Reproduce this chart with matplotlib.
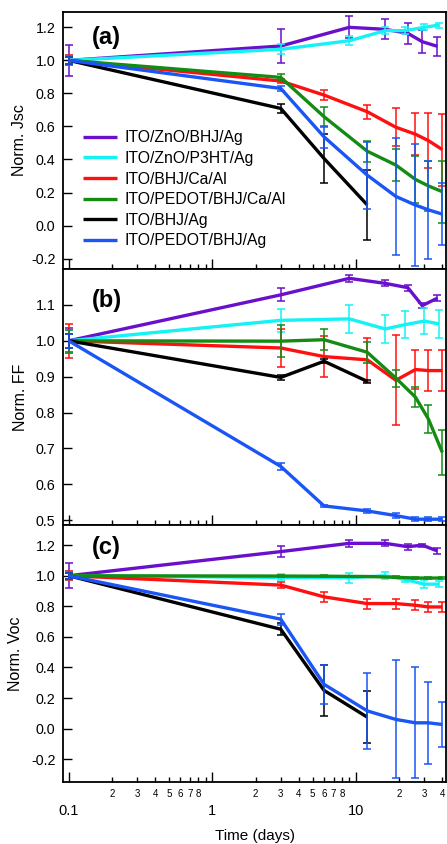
import matplotlib.pyplot as plt
import numpy as np
from matplotlib.ticker import FixedLocator, LogLocator, FuncFormatter

plt.rcParams['font.family'] = ['Liberation Sans', 'DejaVu Sans']
plt.rcParams['axes.unicode_minus'] = False

# time points (days) for each device type
t_zno_bhj = [0.1, 3, 9, 16, 23, 29, 37]
t_zno_p3ht = [0.1, 3, 9, 16, 22, 30, 38]
t_std = [0.1, 3, 6, 12, 19, 26, 32, 40]
t_bhj_ag = [0.1, 3, 6, 12]

labels = ['ITO/ZnO/BHJ/Ag', 'ITO/ZnO/P3HT/Ag', 'ITO/BHJ/Ca/Al',
          'ITO/PEDOT/BHJ/Ca/Al', 'ITO/BHJ/Ag', 'ITO/PEDOT/BHJ/Ag']
colors = ['#6a0fcc', '#14f2f5', '#ff1010', '#148c14', '#000000', '#1a55f5']
times = [t_zno_bhj, t_zno_p3ht, t_std, t_std, t_bhj_ag, t_std]

# (a) normalised Jsc
jsc_zno_bhj = [1.0, 1.087, 1.2, 1.188, 1.164, 1.113, 1.085]
jsc_zno_bhj_err = [0.095, 0.105, 0.066, 0.06, 0.064, 0.068, 0.056]
jsc_zno_p3ht = [1.0, 1.067, 1.119, 1.18, 1.18, 1.2, 1.214]
jsc_zno_p3ht_err = [0.03, 0.03, 0.028, 0.02, 0.02, 0.018, 0.015]
jsc_ca = [1.0, 0.875, 0.79, 0.689, 0.595, 0.553, 0.514, 0.46]
jsc_ca_err = [0.03, 0.015, 0.032, 0.043, 0.116, 0.126, 0.167, 0.218]
jsc_pedot_ca = [1.0, 0.897, 0.659, 0.45, 0.366, 0.279, 0.24, 0.205]
jsc_pedot_ca_err = [0.02, 0.02, 0.061, 0.063, 0.095, 0.142, 0.152, 0.187]
jsc_ag = [1.0, 0.709, 0.406, 0.125]
jsc_ag_err = [0.02, 0.028, 0.147, 0.21]
jsc_pedot_ag = [1.0, 0.83, 0.537, 0.305, 0.176, 0.124, 0.095, 0.069]
jsc_pedot_ag_err = [0.02, 0.014, 0.066, 0.202, 0.356, 0.368, 0.295, 0.188]

# (b) normalised FF
ff_zno_bhj = [1.0, 1.128, 1.174, 1.16, 1.148, 1.098, 1.119]
ff_zno_bhj_err = [0.035, 0.018, 0.01, 0.008, 0.008, 0.008, 0.009]
ff_zno_p3ht = [1.0, 1.057, 1.061, 1.033, 1.045, 1.055, 1.047]
ff_zno_p3ht_err = [0.03, 0.032, 0.038, 0.039, 0.038, 0.037, 0.039]
ff_ca = [1.0, 0.98, 0.956, 0.947, 0.89, 0.92, 0.917, 0.917]
ff_ca_err = [0.048, 0.053, 0.058, 0.062, 0.125, 0.055, 0.057, 0.057]
ff_pedot_ca = [1.0, 0.999, 1.003, 0.968, 0.896, 0.843, 0.782, 0.689]
ff_pedot_ca_err = [0.03, 0.045, 0.029, 0.03, 0.024, 0.028, 0.039, 0.063]
ff_ag = [1.0, 0.898, 0.943, 0.887]
ff_ag_err = [0.02, 0.008, 0.005, 0.005]
ff_pedot_ag = [1.0, 0.65, 0.54, 0.526, 0.513, 0.503, 0.503, 0.503]
ff_pedot_ag_err = [0.02, 0.009, 0.003, 0.005, 0.008, 0.006, 0.006, 0.006]

# (c) normalised Voc
voc_zno_bhj = [1.0, 1.158, 1.212, 1.212, 1.19, 1.2, 1.162]
voc_zno_bhj_err = [0.082, 0.035, 0.024, 0.02, 0.02, 0.01, 0.018]
voc_zno_p3ht = [1.0, 0.989, 0.987, 1.0, 0.975, 0.945, 0.945]
voc_zno_p3ht_err = [0.03, 0.02, 0.033, 0.022, 0.017, 0.025, 0.02]
voc_ca = [1.0, 0.939, 0.862, 0.818, 0.818, 0.807, 0.796, 0.796]
voc_ca_err = [0.03, 0.017, 0.033, 0.033, 0.033, 0.033, 0.033, 0.035]
voc_pedot_ca = [1.0, 0.998, 0.997, 0.995, 0.99, 0.985, 0.985, 0.985]
voc_pedot_ca_err = [0.02, 0.005, 0.005, 0.005, 0.006, 0.006, 0.006, 0.006]
voc_ag = [1.0, 0.65, 0.25, 0.075]
voc_ag_err = [0.02, 0.04, 0.168, 0.17]
voc_pedot_ag = [1.0, 0.716, 0.29, 0.116, 0.06, 0.038, 0.038, 0.027]
voc_pedot_ag_err = [0.02, 0.036, 0.128, 0.25, 0.386, 0.364, 0.27, 0.148]

panels = [
    ('(a)', 'Norm. Jsc', (-0.261, 1.293), np.arange(-0.2, 1.21, 0.2),
     [jsc_zno_bhj, jsc_zno_p3ht, jsc_ca, jsc_pedot_ca, jsc_ag, jsc_pedot_ag],
     [jsc_zno_bhj_err, jsc_zno_p3ht_err, jsc_ca_err, jsc_pedot_ca_err, jsc_ag_err, jsc_pedot_ag_err]),
    ('(b)', 'Norm. FF', (0.486, 1.201), np.arange(0.5, 1.11, 0.1),
     [ff_zno_bhj, ff_zno_p3ht, ff_ca, ff_pedot_ca, ff_ag, ff_pedot_ag],
     [ff_zno_bhj_err, ff_zno_p3ht_err, ff_ca_err, ff_pedot_ca_err, ff_ag_err, ff_pedot_ag_err]),
    ('(c)', 'Norm. Voc', (-0.349, 1.33), np.arange(-0.2, 1.21, 0.2),
     [voc_zno_bhj, voc_zno_p3ht, voc_ca, voc_pedot_ca, voc_ag, voc_pedot_ag],
     [voc_zno_bhj_err, voc_zno_p3ht_err, voc_ca_err, voc_pedot_ca_err, voc_ag_err, voc_pedot_ag_err]),
]
tag_y = [0.90, 0.875, 0.912]
ylab_x = [-0.094, -0.091, -0.104]

fig, axes = plt.subplots(3, 1, figsize=(4.47, 8.44), dpi=100, sharex=True)
fig.subplots_adjust(left=0.141, right=0.998, top=0.9858, bottom=0.0735, hspace=0)


def minor_label(v, pos):
    d = int(round(v / 10 ** np.floor(np.log10(v) + 1e-9)))
    return str(d) if 2 <= d <= 8 else ''


for i, (ax, (tag, ylab, ylim, yt, ys, es)) in enumerate(zip(axes, panels)):
    for x, y, e, c, lab in zip(times, ys, es, colors, labels):
        ax.plot(x, y, color=c, lw=2.4, label=lab, solid_capstyle='butt')
        ax.errorbar(x, y, yerr=e, fmt='none', ecolor=c, elinewidth=1.1,
                    capsize=2.6, capthick=1.1)
    ax.set_xscale('log')
    ax.set_xlim(0.0913, 42.5)
    ax.set_ylim(*ylim)
    ax.set_yticks(yt)
    ax.yaxis.set_major_formatter('{x:.1f}')
    ax.xaxis.set_major_locator(FixedLocator([0.1, 1, 10]))
    ax.xaxis.set_minor_locator(LogLocator(base=10, subs=np.arange(2, 10)))
    ax.xaxis.set_major_formatter(FuncFormatter(lambda v, p: f'{v:g}'))
    ax.xaxis.set_minor_formatter(FuncFormatter(minor_label))
    ax.tick_params(axis='x', which='major', direction='in', length=7, width=1,
                   labelsize=10.5, pad=16, top=False)
    ax.tick_params(axis='x', which='minor', direction='in', length=3.5, width=1,
                   labelsize=7, pad=5, top=False)
    ax.tick_params(axis='y', direction='in', length=6.5, width=1,
                   labelsize=10.3, pad=5.5, right=False)
    for s in ax.spines.values():
        s.set_linewidth(1.3)
    ax.set_ylabel(ylab, fontsize=11.5)
    ax.yaxis.set_label_coords(ylab_x[i], 0.5)
    ax.text(0.075, tag_y[i], tag, transform=ax.transAxes, fontsize=17,
            fontweight='bold', va='center', ha='left')

axes[-1].set_xlabel('Time (days)', fontsize=11, labelpad=8)

axes[0].legend(loc='center left', bbox_to_anchor=(0.052, 0.309), frameon=False,
               fontsize=11.3, handlelength=2.15, handletextpad=0.5,
               labelspacing=0.36, borderpad=0, borderaxespad=0)

fig.savefig('out.png', dpi=100)
